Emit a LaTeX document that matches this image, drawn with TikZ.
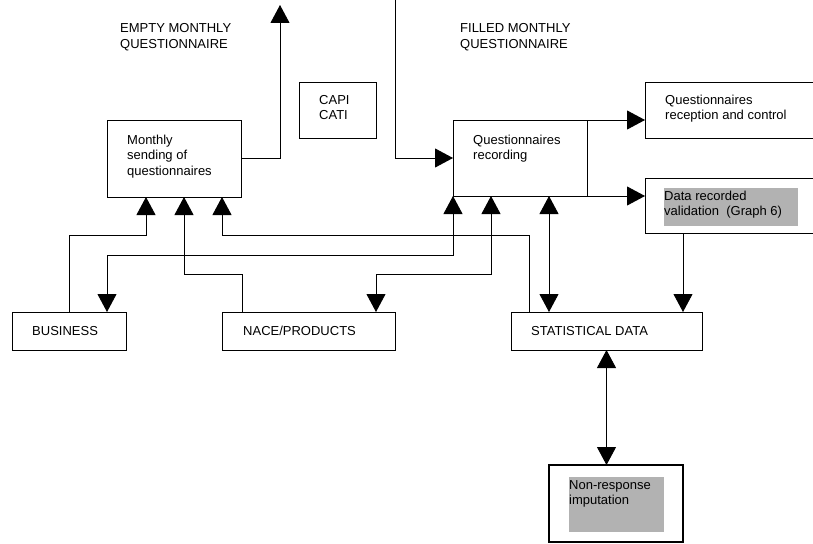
\documentclass[tikz,border=0pt]{standalone}
\usepackage{fontspec}
\setmainfont{Liberation Sans}
\usetikzlibrary{arrows.meta,calc}
\definecolor{panelgrey}{RGB}{178,178,178}
\tikzset{
  box/.style={draw, line width=0.9pt, inner sep=0pt, outer sep=0pt},
  % text nodes are placed by the baseline of their last line
  txt/.style={anchor=base west, align=left, inner sep=0pt,
    font=\fontsize{13}{15.5}\selectfont},
  line/.style={line width=0.9pt},
  arr/.style={line, -{Triangle[length=18pt,width=19pt]}},
  dbl/.style={line, {Triangle[length=18pt,width=19pt]}-{Triangle[length=18pt,width=19pt]}},
}
\begin{document}
\begin{tikzpicture}[x=1pt,y=-1pt]
\useasboundingbox (0,0) rectangle (813,543);

% grey text panels
\fill[panelgrey] (664,188) rectangle (798,226);
\fill[panelgrey] (569,477) rectangle (664,532);

% boxes
\node[box, minimum width=134pt, minimum height=77pt] (send) at (174,158.5) {};
\node[box, minimum width=77pt, minimum height=56pt] (capi) at (337.5,110) {};
\node[box, minimum width=134pt, minimum height=76pt] (rec) at (520,158) {};
\node[box, minimum width=185pt, minimum height=56pt] (recctl) at (737.5,110) {};
\node[box, minimum width=185pt, minimum height=55pt] (valid) at (737.5,205.5) {};
\node[box, minimum width=114pt, minimum height=38pt] (bus) at (69,331) {};
\node[box, minimum width=173pt, minimum height=38pt] (nace) at (308.5,331) {};
\node[box, minimum width=191pt, minimum height=38pt] (stat) at (606.5,331) {};
\node[box, line width=1.8pt, minimum width=134pt, minimum height=77pt] (nonresp) at (616,503.5) {};

% texts
\node[txt] (tempty) at (120,48.5) {EMPTY MONTHLY\\QUESTIONNAIRE};
\node[txt] (tfilled) at (460,48.5) {FILLED MONTHLY\\QUESTIONNAIRE};
\node[txt] (tsend) at (127,175) {Monthly\\sending of\\questionnaires};
\node[txt] (tcapi) at (319,119.5) {CAPI\\CATI};
\node[txt] (trec) at (473,159.5) {Questionnaires\\recording};
\node[txt] (trecctl) at (665,119.5) {Questionnaires\\reception and control};
\node[txt] (tvalid) at (664,215.5) {Data recorded\\validation\ \ (Graph 6)};
\node[txt] (tbus) at (32,335) {BUSINESS};
\node[txt] (tnace) at (243,335) {NACE/PRODUCTS};
\node[txt] (tstat) at (531,335) {STATISTICAL DATA};
\node[txt] (tnon) at (569,504.5) {Non-response\\imputation};

% free ends of the questionnaire flows
\coordinate (outtop) at (280,5);
\coordinate (intop) at (395,0);
\coordinate (vout) at ($(valid.south west)+(38,0)$);

% connectors
\draw[arr] (send.east) -| (outtop);
\draw[arr] (intop) |- (rec.west);
\draw[arr] (rec.north east) -- (rec.north east -| recctl.west);
\draw[arr] ($(rec.south east)+(-19,0)$) -- (rec.south east -| valid.west);
\draw[arr] (vout) -- (vout |- stat.north);
\draw[arr] (bus.north) -- ++(0,-77) -| ($(send.south west)+(39,0)$);
\draw[dbl] (rec.south west) -- ++(0,59) -| ($(bus.north east)+(-19,0)$);
\draw[arr] ($(nace.north west)+(20,0)$) -- ++(0,-38) -| ($(send.south)+(10,0)$);
\draw[dbl] ($(rec.south)+(-29,0)$) -- ++(0,78) -| ($(nace.north east)+(-19,0)$);
\draw[arr] ($(stat.north west)+(18,0)$) -- ++(0,-77) -| ($(send.south east)+(-19,0)$);
\draw[dbl] ($(rec.south east)+(-38,0)$) -- ($(stat.north west)+(38,0)$);
\draw[dbl] (stat.south) -- (stat.south |- nonresp.north);
\end{tikzpicture}
\end{document}
